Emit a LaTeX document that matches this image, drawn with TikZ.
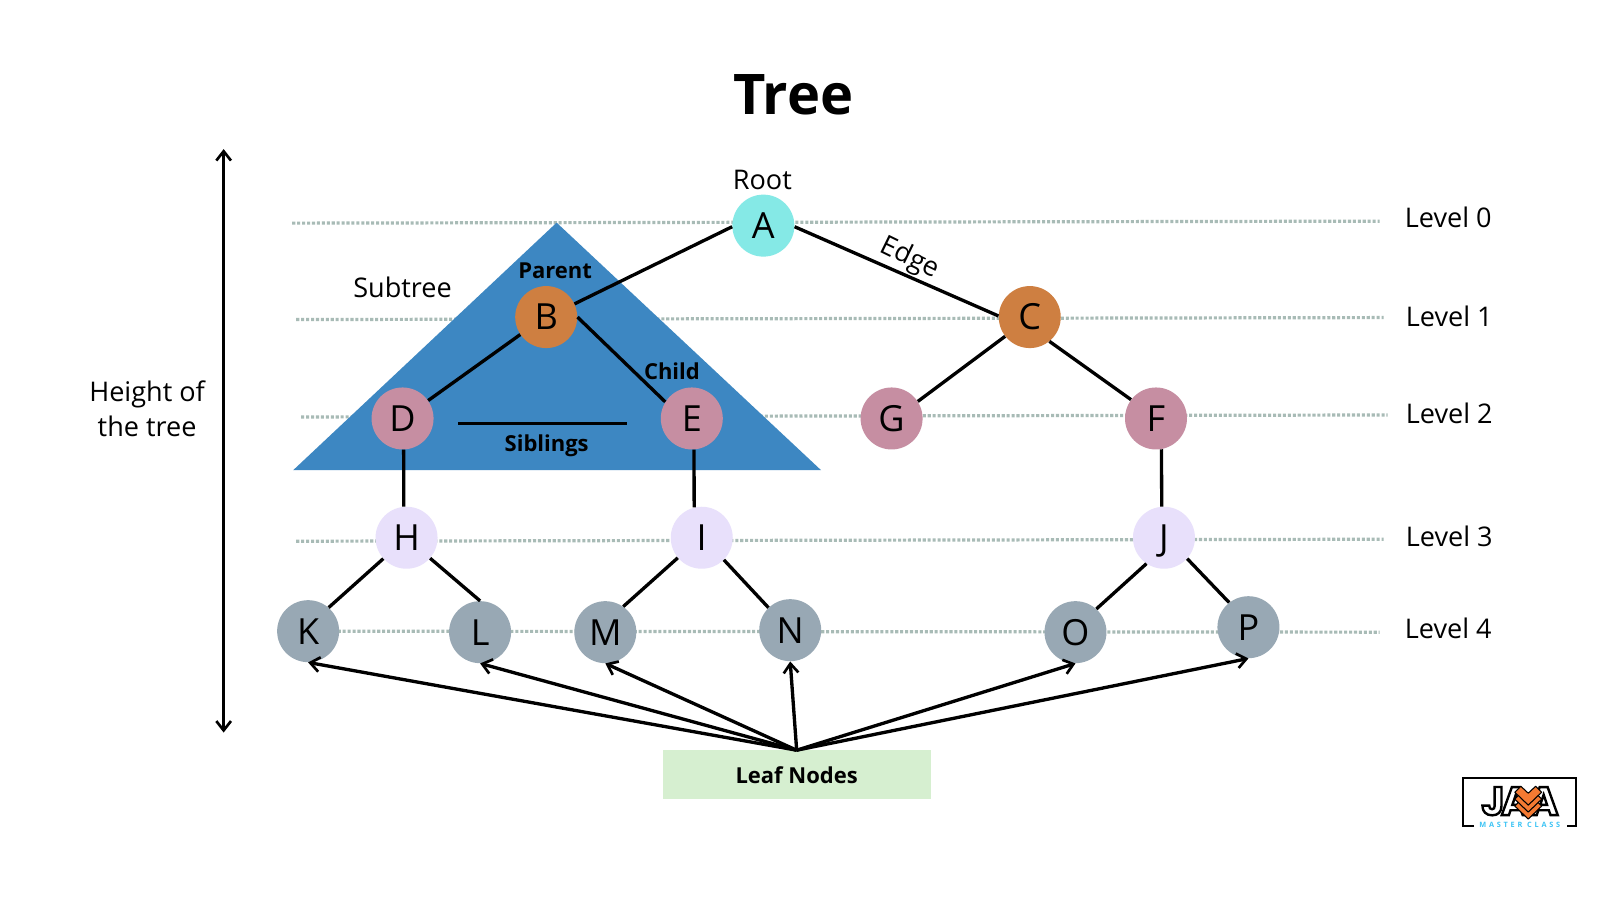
\documentclass[tikz,border=0pt]{standalone}
\usepackage{fontspec}
\setmainfont{Open Sans}
\newfontfamily\logofont{Poppins}
\usetikzlibrary{arrows.meta}
\definecolor{cA}{HTML}{85E9E6}
\definecolor{cB}{HTML}{CE7F41}
\definecolor{cD}{HTML}{C68EA2}
\definecolor{cH}{HTML}{E8E0FB}
\definecolor{cK}{HTML}{98A8B4}
\definecolor{cTri}{HTML}{3D87C2}
\definecolor{cLeaf}{HTML}{D6EFD0}
\definecolor{cDot}{HTML}{A8BBB6}
\definecolor{cOrange}{HTML}{F47A32}
\definecolor{cCyan}{HTML}{3DC4F5}
\newcommand{\outlined}[1]{\special{pdf:code q 2 Tr 1.8 w 0 0 0 RG}#1\special{pdf:code Q}}
\tikzset{
  vertex/.style={circle,minimum size=46.5pt,inner sep=0pt,text=black,
    font=\fontsize{27}{27}\selectfont,text height=19.3pt,text depth=0pt},
  lvl/.style={draw=cDot,line width=2.4pt,dash pattern=on 2.3pt off 1.4pt},
  edge/.style={draw=black,line width=2.5pt},
  ptr/.style={draw=black,line width=2.5pt,-{Straight Barb[length=7pt,width=11pt,line width=2pt]}},
  dbl/.style={draw=black,line width=2.5pt,{Straight Barb[length=7pt,width=11pt,line width=2pt]}-{Straight Barb[length=7pt,width=11pt,line width=2pt]}},
  lab/.style={font=\fontsize{20.3}{26.5}\selectfont,align=center,text=black,inner sep=0pt},
  blab/.style={font=\fontsize{16.5}{20}\selectfont\bfseries,text=black,inner sep=0pt},
  logotxt/.style={font=\logofont\fontsize{30}{30}\selectfont\bfseries,inner sep=0pt,text=white},
}
\begin{document}
\begin{tikzpicture}[x=0.7455pt,y=-0.7455pt]
\useasboundingbox (-2,0) rectangle (1607.7,905.4);
\fill[white] (-2,0) rectangle (1607.7,905.4);
% level lines
\draw[lvl] (292,224.5) -- (1386,222.5);
\draw[lvl] (296,321.5) -- (1390,319.5);
\draw[lvl] (301,419.5) -- (1394,417.5);
\draw[lvl] (296,544.5) -- (1390,542.5);
\draw[lvl] (308,635) -- (1386,636);
% subtree triangle
\fill[cTri] (558,224) -- (824,473) -- (293,473) -- cycle;
% nodes
\node[vertex,fill=cA] (A) at (766,227) {A};
\node[vertex,fill=cB] (B) at (547.5,319) {B};
\node[vertex,fill=cB] (C) at (1034,319) {C};
\node[vertex,fill=cD] (D) at (403,421) {D};
\node[vertex,fill=cD] (E) at (694,421) {E};
\node[vertex,fill=cD] (G) at (895,421) {G};
\node[vertex,fill=cD] (F) at (1161,421) {F};
\node[vertex,fill=cH] (H) at (407,541) {H};
\node[vertex,fill=cH] (I) at (704,541) {I};
\node[vertex,fill=cH] (J) at (1169,541) {J};
\node[vertex,fill=cK] (K) at (308,635) {K};
\node[vertex,fill=cK] (L) at (481,636) {L};
\node[vertex,fill=cK] (M) at (607,636) {M};
\node[vertex,fill=cK] (N) at (793,634) {N};
\node[vertex,fill=cK] (O) at (1080,636) {O};
\node[vertex,fill=cK] (P) at (1254,631) {P};
% edges
\draw[edge] (A.182) -- (B.25);
\draw[edge] (A.-2) -- (C.178);
\draw[edge] (B.214) -- (D.35);
\draw[edge] (B.0) -- (E.148);
\draw[edge] (C.218) -- (G.33);
\draw[edge] (C.-51) -- (F.143);
\draw[edge] (D.-88) -- (H.95.4);
\draw[edge] (E.-86) -- (I.104.6);
\draw[edge] (F.-80) -- (J.94.8);
\draw[edge] (H.222) -- (K.49);
\draw[edge] (H.-41) -- (L.90);
\draw[edge] (I.220) -- (M.55);
\draw[edge] (I.-45) -- (N.134);
\draw[edge] (J.236) -- (O.48);
\draw[edge] (J.-42) -- (P.128);
% siblings rule
\coordinate (sibL) at (459,426);
\coordinate (sibR) at (629,426);
\draw[edge] (sibL) -- (sibR);
% height
\coordinate (hTop) at (223,150);
\coordinate (hBot) at (223,737);
\draw[dbl] (hTop) -- (hBot);
% leaf
\node[fill=cLeaf,minimum width=201pt,minimum height=36.5pt,inner sep=0pt,font=\fontsize{16.5}{20}\selectfont\bfseries] (Leaf) at (799.5,779.5) {Leaf Nodes};
\foreach \t in {K,L,M,N,O,P} \draw[ptr] (Leaf.north) -- (\t.south);
% labels
\node[font=\fontsize{42}{46}\selectfont\bfseries,inner sep=0pt] (title) at (796,95) {Tree};
\node[lab] (root) at (765,181) {Root};
\node[lab,rotate=-26] (edgeL) at (913,260) {Edge};
\node[blab] (parent) at (556.5,272.5) {Parent};
\node[lab] (sub) at (403,289) {Subtree};
\node[blab] (child) at (674,373.5) {Child};
\node[blab] (sib) at (548,448) {Siblings};
\node[lab] (hgt) at (146,411) {Height of\\the tree};
\node[lab] (l0) at (1455,219) {Level 0};
\node[lab] (l1) at (1456,318) {Level 1};
\node[lab] (l2) at (1456,416) {Level 2};
\node[lab] (l3) at (1456,540) {Level 3};
\node[lab] (l4) at (1455,632) {Level 4};
% logo
\draw[black,line width=1.5pt] (1481,831) -- (1470,831) -- (1470,783) -- (1584,783) -- (1584,831) -- (1574,831);
\node[font=\fontsize{5.5}{6}\selectfont\bfseries\addfontfeature{LetterSpace=38},text=cCyan,inner sep=0pt] (mc) at (1527,830) {MASTER CLASS};
\node[logotxt] (logoJ) at (1500,806) {\outlined{J}};
\node[logotxt] (logoA) at (1523,806) {\outlined{A}};
\node[logotxt] (logoB) at (1551,806) {\outlined{A}};
\foreach \dy in {14,7,0}{
  \draw[black,fill=cOrange,line width=0.8pt,line join=round] (1522,\dy+797) -- (1528,\dy+791) -- (1535.5,\dy+798) -- (1543,\dy+791) -- (1549,\dy+797) -- (1535.5,\dy+810) -- cycle;
}
\end{tikzpicture}
\end{document}
